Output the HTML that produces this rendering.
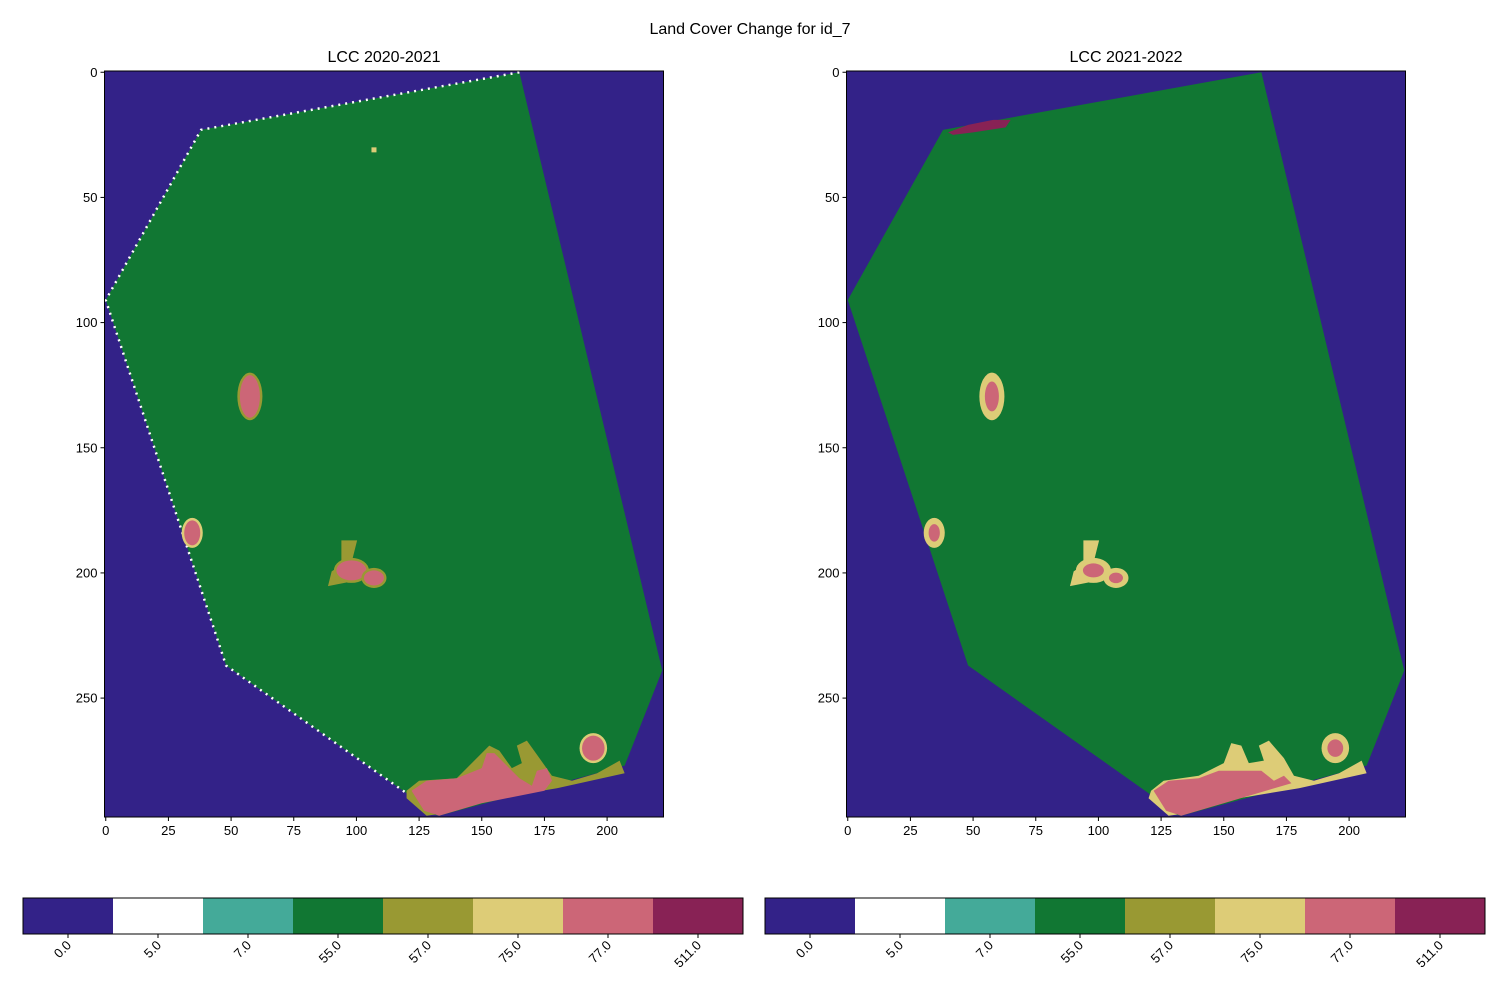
<!DOCTYPE html>
<html><head><meta charset="utf-8"><style>
body{margin:0;background:#fff}
svg{display:block;font-family:"Liberation Sans","DejaVu Sans",sans-serif}
</style></head><body>
<svg id="c" width="1500" height="1000" viewBox="0 0 1500 1000"></svg>
<script>
const classLabels=["0.0","5.0","7.0","55.0","57.0","75.0","77.0","511.0"];
const classColors=["#332288","#ffffff","#44aa99","#117733","#999933","#ddcc77","#cc6677","#882255"];
const xTicks=[0,25,50,75,100,125,150,175,200];
const yTicks=[0,50,100,150,200,250];
const nx=223, ny=298;
const fieldPoly=[[165,0],[38,23],[0,91],[48,237],[120,288],[127,296],[133,297],[207,277],[222,239]];
const leftOlive=[[120,287],[125,283],[140,282],[150,272],[153,269],[157,271],[162,278],[166,276],[164,269],[168,267],[173,274],[178,281],[186,283],[196,280],[205,275],[207,280],[180,286],[150,291],[135,296],[128,297],[120,290]];
const leftRose=[[122,287],[128,283],[140,282],[150,278],[152,272],[155,272],[165,282],[170,285],[172,279],[176,278],[178,283],[175,287],[150,292],[133,297],[127,295]];
const rightSand=[[121,287],[126,283],[140,281],[150,276],[153,268],[157,269],[160,276],[166,275],[164,269],[168,267],[174,274],[178,281],[186,283],[196,280],[205,275],[207,280],[180,286],[150,291],[135,296],[128,297],[120,290]];
const rightRose=[[122,287],[128,283],[140,282],[148,279],[165,279],[170,283],[174,281],[177,284],[150,292],[133,297],[127,295]];
const blobCenters=[[57.5,129.5,4,8.5],[34.5,184,3.2,5],[194.5,270,4.5,5],[98,199,6,4],[107,202,4,3]];
const yStem=[[95,188],[99,188],[97,196],[91,200],[90,204],[95,203]];
const wine=[[40,24],[48,21],[58,19],[65,19],[63,22],[50,24],[42,25]];
const panels=[{x0:104.5,title:"LCC 2020-2021",left:true},{x0:846.5,title:"LCC 2021-2022",left:false}];
const y0=71, sx=559/nx, sy=746/ny;
const svg=document.getElementById('c');const NS="http://www.w3.org/2000/svg";
function mk(t,a,p){const e=document.createElementNS(NS,t);for(const k in a)e.setAttribute(k,a[k]);(p||svg).appendChild(e);return e;}
function txt(s,a,p){const e=mk('text',a,p);e.textContent=s;return e;}
const t=txt("Land Cover Change for id_7",{x:750,y:34,'text-anchor':'middle','font-size':16});

panels.forEach((P,i)=>{
 const X=v=>P.x0+(v+0.5)*sx, Y=v=>y0+(v+0.5)*sy;
 const pts=a=>a.map(p=>X(p[0])+','+Y(p[1])).join(' ');
 const g=mk('g',{});
 
 const bg=mk('rect',{x:P.x0,y:y0,width:nx*sx,height:ny*sy,fill:classColors[0]},g);
 
 const f=mk('polygon',{points:pts(fieldPoly),fill:classColors[3]},g);
 
 if(P.left){const d=mk('polyline',{points:pts(fieldPoly.slice(0,5)),fill:'none',stroke:'#fff','stroke-width':2.5,'stroke-dasharray':'2 5'},g);
  }
 const edge=P.left?classColors[4]:classColors[5];
 const a=mk('polygon',{points:pts(P.left?leftOlive:rightSand),fill:edge},g);
 
 const r=mk('polygon',{points:pts(P.left?leftRose:rightRose),fill:classColors[6]},g);
 
 const s=mk('polygon',{points:pts(yStem),fill:edge,stroke:edge,'stroke-width':5},g);
 
 blobCenters.forEach((b,j)=>{
  const e1=mk('ellipse',{cx:X(b[0]),cy:Y(b[1]),rx:(b[2]+1)*sx,ry:(b[3]+1)*sy,fill:(j==1||j==2)?classColors[5]:edge},g);
  
  const e2=mk('ellipse',{cx:X(b[0]),cy:Y(b[1]),rx:b[2]*sx*(P.left?1:0.7),ry:b[3]*sy*(P.left?1:0.7),fill:classColors[6]},g);
  
 });
 if(!P.left){const w=mk('polygon',{points:pts(wine),fill:classColors[7]},g);
  }
 else{const sp=mk('rect',{x:X(106),y:Y(30),width:2*sx,height:2*sy,fill:classColors[5]},g);
  }
 const fr=mk('rect',{x:P.x0,y:y0,width:nx*sx,height:ny*sy,fill:'none',stroke:'#000','stroke-width':1},g);
 
 const tt=txt(P.title,{x:P.x0+nx*sx/2,y:62,'text-anchor':'middle','font-size':16},g);
 
 const yb=y0+ny*sy;
 xTicks.forEach(v=>{const x=P.x0+(v+0.5)*sx;mk('line',{x1:x,x2:x,y1:yb,y2:yb+4,stroke:'#000'},g);
  const l=txt(v,{x:x,y:yb+18,'text-anchor':'middle','font-size':13},g);
  });
 yTicks.forEach(v=>{const y=Y(v);mk('line',{x1:P.x0,x2:P.x0-4,y1:y,y2:y,stroke:'#000'},g);
  const l=txt(v,{x:P.x0-7,y:y+4.5,'text-anchor':'end','font-size':13},g);
  });
 const cb=mk('g',{});
 
 const cx0=23+i*742, cw=90;
 classColors.forEach((c,k)=>{const rr=mk('rect',{x:cx0+k*cw,y:898,width:cw,height:36,fill:c},cb);
  
  const tx=cx0+k*cw+cw/2; mk('line',{x1:tx,x2:tx,y1:934,y2:938,stroke:'#000'},cb);
  const l=txt(classLabels[k],{x:tx+4,y:946,'text-anchor':'end','font-size':13,transform:`rotate(-45 ${tx+4} 946)`},cb);
  });
 mk('rect',{x:cx0,y:898,width:cw*8,height:36,fill:'none',stroke:'#000'},cb);
});
</script>
</body></html>
